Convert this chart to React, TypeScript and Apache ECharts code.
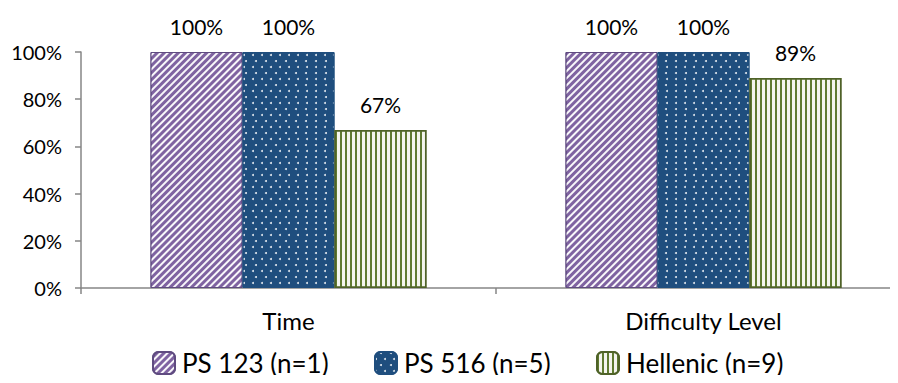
import React, { useEffect, useRef } from "react";
import * as echarts from "echarts";

const categories = ["Time", "Difficulty Level"];
const seriesNames = ["PS 123 (n=1)", "PS 516 (n=5)", "Hellenic (n=9)"];
const ps123 = [1, 1];
const ps516 = [1, 1];
const hellenic = [0.67, 0.89];
const yTicks = [0, 0.2, 0.4, 0.6, 0.8, 1];

const FONT = "Lato, 'Open Sans', sans-serif";

export default function App() {
  const ref = useRef<HTMLDivElement>(null);

  useEffect(() => {
    if (!ref.current) return;
    const chart = echarts.init(ref.current, undefined, { renderer: "svg" });

    const label = {
      show: true,
      position: "top" as const,
      distance: 15,
      fontSize: 21,
      fontFamily: FONT,
      color: "#000",
      formatter: (p: any) => Math.round(p.value * 100) + "%",
    };

    // Fill patterns: diagonal stripes, staggered dots, vertical stripes
    const styles = [
      {
        color: "#7F63A1",
        borderColor: "#5F4B80",
        borderWidth: 1,
        decal: {
          symbol: "rect",
          color: "rgba(255,255,255,0.95)",
          dashArrayX: [1, 0],
          dashArrayY: [2, 2.5],
          rotation: -Math.PI / 4,
        },
      },
      {
        color: "#1F4E7E",
        borderColor: "#1F4E7E",
        borderWidth: 1,
        decal: {
          symbol: "circle",
          symbolSize: 1,
          color: "rgba(255,255,255,0.85)",
          dashArrayX: [
            [2, 7],
            [0, 4.5, 2, 2.5],
          ],
          dashArrayY: [2, 3.2],
          rotation: 0,
        },
      },
      {
        color: "#F4F5EE",
        borderColor: "#4F6228",
        borderWidth: 1.5,
        decal: {
          symbol: "rect",
          color: "#5F7A30",
          dashArrayX: [2, 2.7],
          dashArrayY: [1, 0],
          rotation: 0,
        },
      },
    ];

    const datas = [ps123, ps516, hellenic];

    chart.setOption({
      animation: false,
      textStyle: { fontFamily: FONT },
      grid: {
        left: 81,
        width: 830,
        top: 52,
        bottom: 95,
        containLabel: false,
        outerBoundsMode: "none",
      },
      legend: {
        top: 349,
        left: 152,
        padding: 0,
        itemWidth: 22,
        itemHeight: 22,
        itemGap: 42,
        textStyle: {
          fontSize: 26,
          lineHeight: 28,
          fontFamily: FONT,
          color: "#000",
          width: 150,
          overflow: "none",
          padding: [0, 0, 0, 2],
        },
        data: seriesNames,
      },
      xAxis: {
        type: "category",
        data: categories,
        axisLine: { lineStyle: { color: "#868686", width: 1.5 } },
        axisTick: { show: true, length: 6, lineStyle: { color: "#868686", width: 1.5 } },
        axisLabel: {
          fontSize: 24,
          fontFamily: FONT,
          color: "#000",
          margin: 20,
        },
      },
      yAxis: {
        type: "value",
        min: yTicks[0],
        max: yTicks[yTicks.length - 1],
        interval: 0.2,
        axisLine: { show: true, lineStyle: { color: "#868686", width: 1.5 } },
        axisTick: { show: true, length: 6, lineStyle: { color: "#868686", width: 1.5 } },
        splitLine: { show: false },
        axisLabel: {
          fontSize: 20,
          fontFamily: FONT,
          color: "#000",
          margin: 19,
          formatter: (v: number) => Math.round(v * 100) + "%",
        },
      },
      series: seriesNames.map((name, i) => ({
        name,
        type: "bar",
        data: datas[i],
        barGap: "0%",
        barCategoryGap: "33.5%",
        itemStyle: styles[i],
        label,
      })),
    });

    return () => chart.dispose();
  }, []);

  return <div ref={ref} style={{ width: 898, height: 383, margin: -8 }} />;
}
